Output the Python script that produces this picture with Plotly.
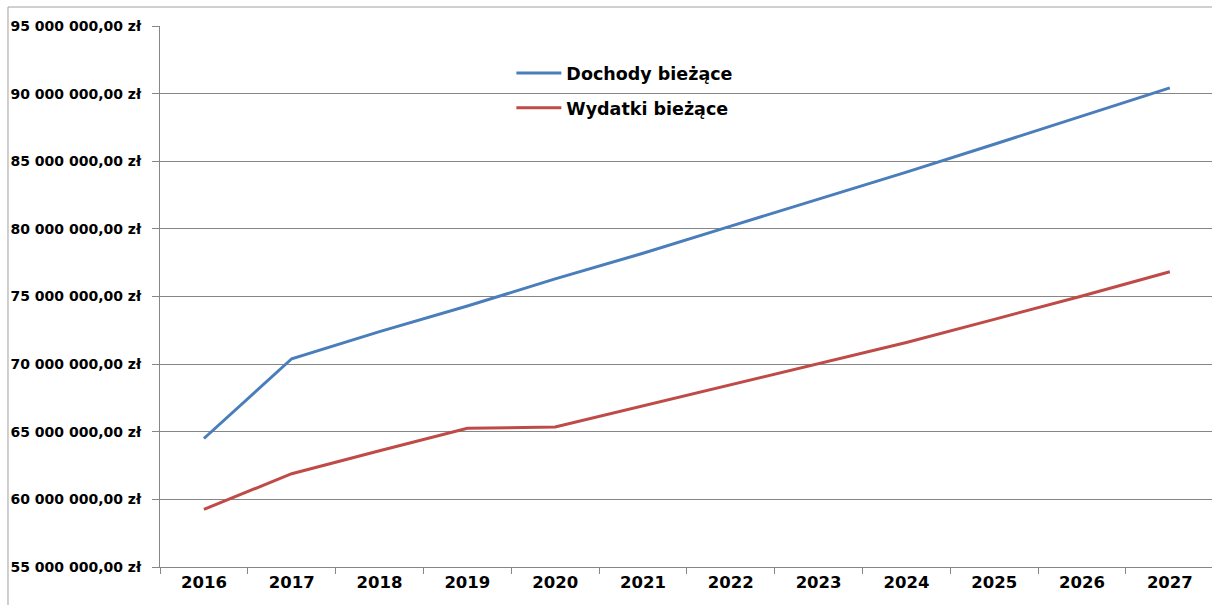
import plotly.graph_objects as go

years = ["2016", "2017", "2018", "2019", "2020", "2021", "2022", "2023", "2024", "2025", "2026", "2027"]
dochody = [64.5e6, 70.4e6, 72.4e6, 74.3e6, 76.3e6, 78.2e6, 80.2e6, 82.2e6, 84.2e6, 86.26e6, 88.35e6, 90.42e6]
wydatki = [59.26e6, 61.9e6, 63.6e6, 65.25e6, 65.35e6, 66.9e6, 68.5e6, 70.0e6, 71.6e6, 73.31e6, 75.04e6, 76.83e6]
tick_vals = [55e6, 60e6, 65e6, 70e6, 75e6, 80e6, 85e6, 90e6, 95e6]
tick_text = ["55 000 000,00 zł", "60 000 000,00 zł", "65 000 000,00 zł", "70 000 000,00 zł",
             "75 000 000,00 zł", "80 000 000,00 zł", "85 000 000,00 zł", "90 000 000,00 zł",
             "95 000 000,00 zł"]

FONT = "DejaVu Sans"
fig = go.Figure()
fig.add_trace(go.Scatter(x=years, y=dochody, mode="lines", name="<b>Dochody bieżące</b>",
                         line=dict(color="#4A7EBB", width=3), legendgroup="a"))
fig.add_trace(go.Scatter(x=years, y=wydatki, mode="lines", name="<b>Wydatki bieżące</b>",
                         line=dict(color="#BE4B48", width=3), legendgroup="b"))

fig.update_layout(
    width=1212, height=605,
    margin=dict(l=160, r=0, t=26, b=38, autoexpand=False),
    paper_bgcolor="white", plot_bgcolor="white",
    font=dict(family=FONT, color="#000000"),
    showlegend=True,
    legend=dict(x=0.334, y=0.9463, xanchor="left", yanchor="top",
                bgcolor="rgba(0,0,0,0)", font=dict(size=17.5, family=FONT, color="#000000"),
                tracegroupgap=9, itemwidth=45),
    xaxis=dict(type="category", range=[-0.5, 11.48], showgrid=False, automargin=False,
               showline=True, linecolor="#868686", linewidth=1,
               ticks="outside", tickson="boundaries", ticklen=6, tickcolor="#868686",
               tickfont=dict(size=16.5, family=FONT, color="#000000"),
               tickprefix="<b>", ticksuffix="</b>"),
    yaxis=dict(range=[55e6, 95e6], tickvals=tick_vals, ticktext=["<b>" + t + "</b>" for t in tick_text],
               showgrid=True, gridcolor="#868686", gridwidth=1, automargin=False,
               showline=True, linecolor="#868686", linewidth=1,
               ticks="outside", ticklen=7, tickcolor="#868686",
               ticklabelstandoff=8,
               tickfont=dict(size=14, family=FONT, color="#000000"), zeroline=False),
    shapes=[dict(type="rect", xref="paper", yref="paper", x0=-0.1445, y0=-0.2, x1=1.1, y1=1.0351,
                 line=dict(color="#A0A0A0", width=1), fillcolor="rgba(0,0,0,0)", layer="below")],
)

fig.write_html("out.html", config={"displayModeBar": False},
               post_script="document.body.style.margin='0';document.body.style.overflow='hidden';")
